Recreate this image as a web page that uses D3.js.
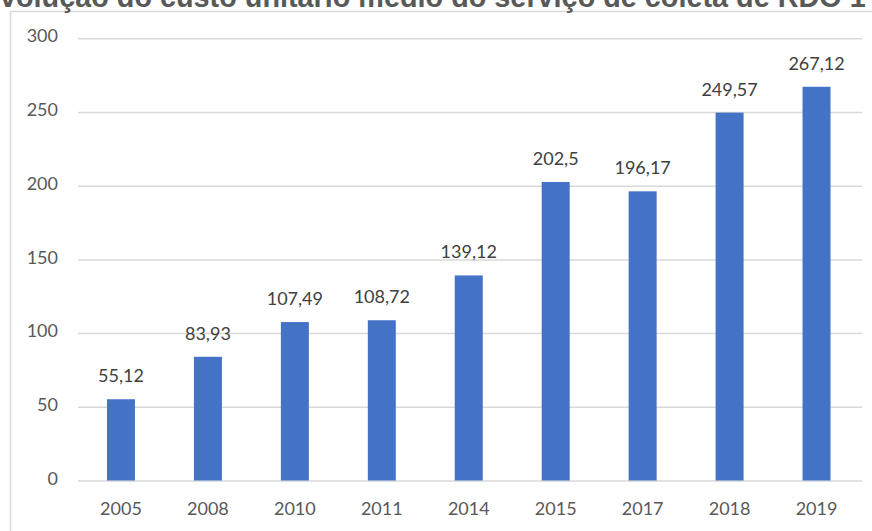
<!DOCTYPE html>
<html>
<head>
<meta charset="utf-8">
<script src="https://cdn.jsdelivr.net/npm/d3@7"></script>
<style>
  html, body { margin: 0; padding: 0; background: #fff; overflow: hidden; }
  svg { display: block; }
</style>
</head>
<body>
<svg id="chart" width="872" height="531"></svg>
<script>
const titleText = "Evolução do custo unitário médio do serviço de coleta de RDO 1";
const categories = ["2005", "2008", "2010", "2011", "2014", "2015", "2017", "2018", "2019"];
const values = [55.12, 83.93, 107.49, 108.72, 139.12, 202.5, 196.17, 249.57, 267.12];
const yTicks = [0, 50, 100, 150, 200, 250, 300];

const svg = d3.select("#chart");
const W = 872, H = 531;
const fontFam = "Lato, 'Liberation Sans', Arial, sans-serif";

// chart frame
svg.append("rect")
  .attr("x", 10.5).attr("y", 11.5)
  .attr("width", 900).attr("height", 600)
  .attr("fill", "#fff").attr("stroke", "#d9d9d9").attr("stroke-width", 1.5);

// title (clipped at top, as in the reference)
const title = svg.append("text")
  .attr("y", 7)
  .attr("font-family", "'Liberation Sans', Arial, sans-serif")
  .attr("font-weight", "bold")
  .attr("font-size", 24)
  .attr("fill", "#595959")
  .text(titleText);
// fit: the visible part (without the leading "E") spans 0..866
{
  const probe = svg.append("text")
    .attr("font-family", "'Liberation Sans', Arial, sans-serif")
    .attr("font-weight", "bold").attr("font-size", 24)
    .text(titleText.slice(1));
  const wRest = probe.node().getComputedTextLength();
  probe.text("E");
  const wE = probe.node().getComputedTextLength();
  probe.remove();
  const fs = 24 * 866 / wRest;
  title.attr("font-size", fs).attr("x", -wE * fs / 24);
}

const x = d3.scaleBand()
  .domain(categories)
  .range([77.5, 860])
  .paddingInner(0.678)
  .paddingOuter(0.339);

const y = d3.scaleLinear()
  .domain([0, 300])
  .range([480.5, 38.3]);

// gridlines + y labels
const yAxis = d3.axisLeft(y)
  .tickValues(yTicks)
  .tickSize(-(862 - 78))
  .tickPadding(20)
  .tickFormat(d3.format("d"));

const gy = svg.append("g")
  .attr("transform", "translate(78,0)")
  .call(yAxis);
gy.select(".domain").remove();
gy.selectAll(".tick line").attr("stroke", "#d9d9d9").attr("stroke-width", 1.5);
gy.selectAll(".tick text")
  .attr("font-family", fontFam)
  .attr("font-size", 18)
  .attr("fill", "#595959")
  .attr("dy", "0.2em");

// x labels
const xAxis = d3.axisBottom(x).tickSize(0).tickPadding(22);
const gx = svg.append("g")
  .attr("transform", "translate(0,480.5)")
  .call(xAxis);
gx.select(".domain").remove();
gx.selectAll(".tick text")
  .attr("font-family", fontFam)
  .attr("font-size", 18)
  .attr("fill", "#595959");

// bars
svg.append("g").selectAll("rect")
  .data(values)
  .join("rect")
  .attr("x", (d, i) => x(categories[i]))
  .attr("width", x.bandwidth())
  .attr("y", d => y(d))
  .attr("height", d => y(0) - y(d))
  .attr("fill", "#4472c4");

// data labels
svg.append("g").selectAll("text")
  .data(values)
  .join("text")
  .attr("x", (d, i) => x(categories[i]) + x.bandwidth() / 2)
  .attr("y", d => y(d) - 17)
  .attr("text-anchor", "middle")
  .attr("font-family", fontFam)
  .attr("font-size", 18)
  .attr("fill", "#404040")
  .text(d => String(d).replace(".", ","));
</script>
</body>
</html>
